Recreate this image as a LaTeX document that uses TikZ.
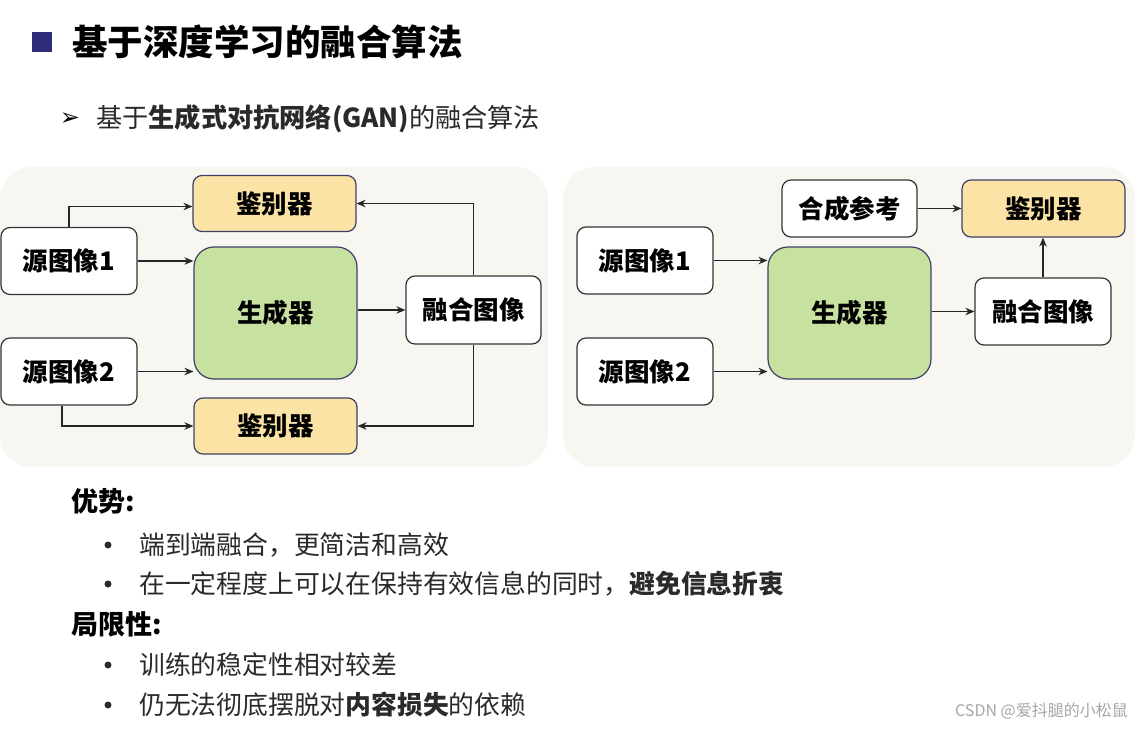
\documentclass[tikz,border=0pt]{standalone}
\usepackage{fontspec}
\setmainfont{Noto Sans CJK SC}
\newfontfamily\symfont{DejaVu Sans}
\usetikzlibrary{arrows.meta,calc}
\definecolor{panelbg}{HTML}{F7F6F1}
\definecolor{boxline}{HTML}{3C4066}
\definecolor{greyline}{HTML}{333333}
\definecolor{yellowbox}{HTML}{FBE3A5}
\definecolor{greenbox}{HTML}{C7E1A0}
\definecolor{navy}{HTML}{2E2C78}
\definecolor{bodytext}{HTML}{2A2A2A}
\tikzset{
  box/.style={draw=boxline,line width=1.2pt,rounded corners=9pt,inner sep=0pt,
    font=\fontsize{25.5}{30}\selectfont\bfseries,text=black},
  whitebox/.style={box,draw=greyline,fill=white,minimum width=136pt,minimum height=67pt},
  discbox/.style={box,fill=yellowbox,minimum width=163pt,minimum height=56pt},
  genbox/.style={box,fill=greenbox,minimum width=163pt,minimum height=132pt,rounded corners=20pt},
  conn/.style={line width=1.3pt,draw=black!85,-{Stealth[length=9pt,width=7.5pt]}},
  panel/.style={fill=panelbg,rounded corners=32pt},
  bodyline/.style={anchor=west,inner sep=0pt,text=bodytext,font=\fontsize{25.8}{30}\selectfont},
  headline/.style={anchor=west,inner sep=0pt,text=black,font=\fontsize{27}{32}\selectfont\bfseries},
  bulletdot/.style={circle,fill=bodytext,inner sep=0pt,minimum size=7pt}
}
\begin{document}
\begin{tikzpicture}[x=1pt,y=-1pt]
\useasboundingbox (0,0) rectangle (1143,729);
\fill[white] (0,0) rectangle (1143,729);
% title
\fill[navy] (32,32) rectangle (52,52);
\node[anchor=west,inner sep=0pt,font=\fontsize{35.5}{40}\selectfont\bfseries] (title) at (72,42) {基于深度学习的融合算法};
\node[inner sep=0pt,font=\symfont\fontsize{24}{26}\selectfont] (sarrow) at (70,119) {➢};
\node[anchor=west,inner sep=0pt,text=bodytext,font=\fontsize{26.2}{30}\selectfont] (subtitle) at (96,119) {基于\textbf{生成式对抗网络(GAN)}的融合算法};
% panels
\fill[panel] (0,167) rectangle (548,467);
\fill[panel] (563,167) rectangle (1135,467);
% left diagram
\node[discbox] (d1) at (274.5,203.5) {鉴别器};
\node[whitebox] (s1) at (69,261) {源图像1};
\node[genbox] (g) at (275.5,313) {生成器};
\node[whitebox] (s2) at (69,371.5) {源图像2};
\node[discbox] (d2) at (275.5,426) {鉴别器};
\node[whitebox,minimum width=135pt,minimum height=68pt] (f) at (473.5,310) {融合图像};
\draw[conn] (s1.north) |- ($(d1.west)+(0,3)$);
\draw[conn] (s1.east) -- (s1.east -| g.west);
\draw[conn] (s2.east) -- (s2.east -| g.west);
\draw[conn] ($(s2.south)+(-7,0)$) |- (d2.west);
\draw[conn] (g.east |- f.west) -- (f.west);
\draw[conn] (f.north) |- (d1.east);
\draw[conn] (f.south) |- (d2.east);
% right diagram
\node[whitebox,minimum width=135pt,minimum height=57pt] (r) at (849.5,208.5) {合成参考};
\node[discbox,minimum height=57pt] (d3) at (1043.5,208.5) {鉴别器};
\node[whitebox] (s3) at (645,260.5) {源图像1};
\node[whitebox] (s4) at (645,371.5) {源图像2};
\node[genbox] (g2) at (849.5,313) {生成器};
\node[whitebox] (f2) at (1043,311.5) {融合图像};
\draw[conn] (r.east) -- (d3.west);
\draw[conn] (s3.east) -- (s3.east -| g2.west);
\draw[conn] (s4.east) -- (s4.east -| g2.west);
\draw[conn] (g2.east |- f2.west) -- (f2.west);
\draw[conn] (f2.north) -- (f2.north |- d3.south);
% bottom text
\node[headline] (adv) at (71,501) {优势:};
\node[bulletdot] (b1) at (108,545) {};
\node[bodyline] (t1) at (139,545) {端到端融合，更简洁和高效};
\node[bulletdot] (b2) at (108,584) {};
\node[bodyline] (t2) at (139,584) {在一定程度上可以在保持有效信息的同时，\textbf{避免信息折衷}};
\node[headline] (lim) at (71,624) {局限性:};
\node[bulletdot] (b3) at (108,665) {};
\node[bodyline] (t3) at (139,665) {训练的稳定性相对较差};
\node[bulletdot] (b4) at (108,705) {};
\node[bodyline] (t4) at (139,705) {仍无法彻底摆脱对\textbf{内容损失}的依赖};
\node[anchor=east,inner sep=0pt,text=gray!70,font=\fontsize{16}{18}\selectfont] (wm) at (1128,711) {CSDN @爱抖腿的小松鼠};
\end{tikzpicture}
\end{document}
